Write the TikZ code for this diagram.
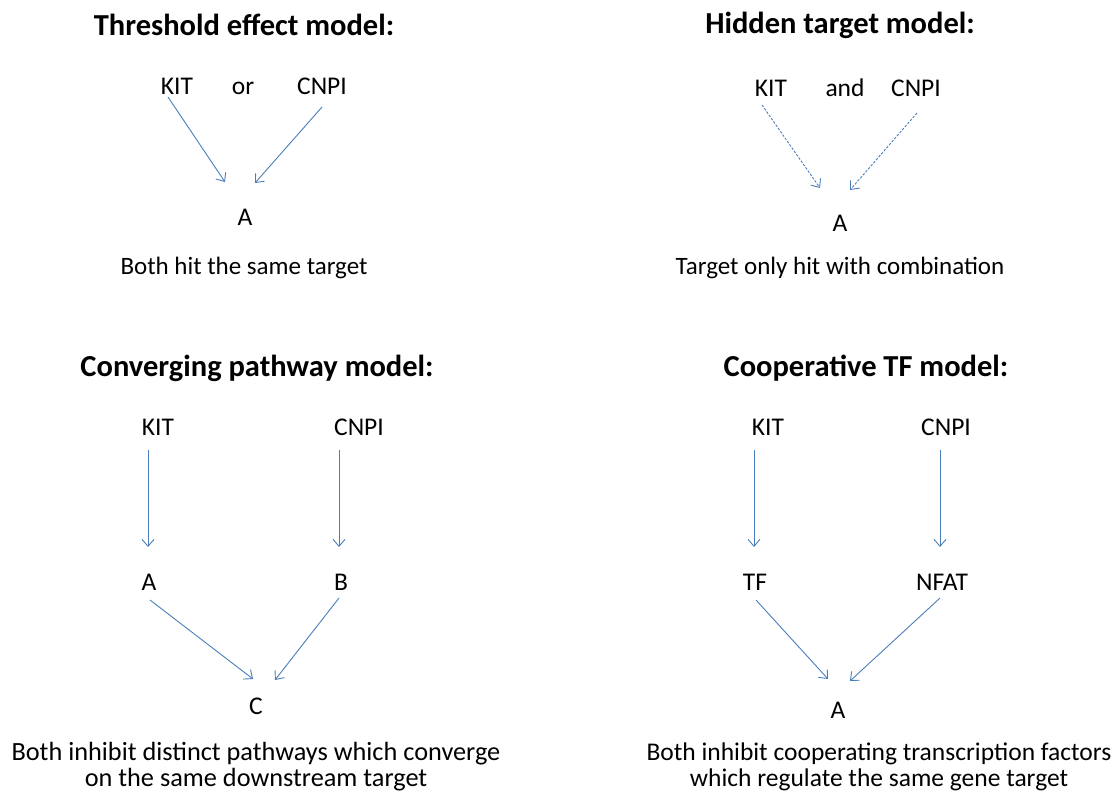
\documentclass[tikz,border=0pt]{standalone}
\usepackage{fontspec}
\setmainfont{Carlito}
\usetikzlibrary{arrows.meta}
\definecolor{arrowblue}{RGB}{74,126,187}
\tikzset{
 titletxt/.style={font=\bfseries\fontsize{30.5}{34}\selectfont, inner sep=0pt},
 lbl/.style={font=\fontsize{25.5}{30}\selectfont, inner sep=0pt},
 captxt/.style={font=\fontsize{25}{28}\selectfont, align=center, inner sep=0pt},
 captxtb/.style={font=\fontsize{25.5}{26}\selectfont, align=center, inner sep=0pt},
 captxtc/.style={font=\fontsize{26.3}{26}\selectfont, align=center, inner sep=0pt},
 arr/.style={draw=arrowblue, line width=0.9pt, -{Straight Barb[length=7pt,width=12pt]}},
 darr/.style={arr, dash pattern=on 2.5pt off 1.5pt},
}
\begin{document}
\begin{tikzpicture}[x=1pt,y=-1pt]
\useasboundingbox (0,0) rectangle (1113,798);
% Threshold effect model
\node[titletxt] (t1) at (244,25) {Threshold effect model:};
\node[lbl] (kit1) at (177,86) {KIT};
\node[lbl] (or1) at (243,88) {or};
\node[lbl] (cnpi1) at (322,86) {CNPI};
\node[lbl] (a1) at (245,217) {A};
\node[captxt] (c1) at (244,268) {Both hit the same target};
\coordinate (s11) at (168,97); \coordinate (e11) at (225,182);
\coordinate (s12) at (322,107); \coordinate (e12) at (255,183);
\draw[arr] (s11) -- (e11);
\draw[arr] (s12) -- (e12);
% Hidden target model
\node[titletxt] (t2) at (840,25) {Hidden target model:};
\node[lbl] (kit2) at (771,88) {KIT};
\node[lbl] (and2) at (845,88) {and};
\node[lbl] (cnpi2) at (916,88) {CNPI};
\node[lbl] (a2) at (840,223) {A};
\node[captxt] (c2) at (840,268) {Target only hit with combination};
\coordinate (s21) at (762,105); \coordinate (e21) at (820,188);
\coordinate (s22) at (917,113); \coordinate (e22) at (850,190);
\draw[darr] (s21) -- (e21);
\draw[darr] (s22) -- (e22);
% Converging pathway model
\node[titletxt] (t3) at (257,368) {Converging pathway model:};
\node[lbl] (kit3) at (158,427) {KIT};
\node[lbl] (cnpi3) at (359,427) {CNPI};
\node[lbl] (a3) at (149,582) {A};
\node[lbl] (b3) at (341,582) {B};
\node[lbl] (c3) at (256,706) {C};
\node[captxtc] (cap3) at (256,767) {Both inhibit distinct pathways which converge\\on the same downstream target};
\coordinate (s31a) at (148,450); \coordinate (e31a) at (148,547);
\coordinate (s32a) at (339,450); \coordinate (e32a) at (339,547);
\draw[arr] (s31a) -- (e31a);
\draw[arr] (s32a) -- (e32a);
\coordinate (s31) at (150,600); \coordinate (e31) at (253,679);
\coordinate (s32) at (339,598); \coordinate (e32) at (275,680);
\draw[arr] (s31) -- (e31);
\draw[arr] (s32) -- (e32);
% Cooperative TF model
\node[titletxt] (t4) at (866,368) {Cooperative TF model:};
\node[lbl] (kit4) at (768,427) {KIT};
\node[lbl] (cnpi4) at (946,427) {CNPI};
\node[lbl] (tf4) at (755,582) {TF};
\node[lbl] (nfat4) at (942,582) {NFAT};
\node[lbl] (a4) at (838,710) {A};
\node[captxtb] (cap4) at (879,767) {Both inhibit cooperating transcription factors\\which regulate the same gene target};
\coordinate (s41) at (754,450); \coordinate (e41) at (754,547);
\coordinate (s42) at (940,450); \coordinate (e42) at (940,547);
\draw[arr] (s41) -- (e41);
\draw[arr] (s42) -- (e42);
\coordinate (s43) at (756,600); \coordinate (e43) at (828,679);
\coordinate (s44) at (940,598); \coordinate (e44) at (850,681);
\draw[arr] (s43) -- (e43);
\draw[arr] (s44) -- (e44);
\end{tikzpicture}
\end{document}
